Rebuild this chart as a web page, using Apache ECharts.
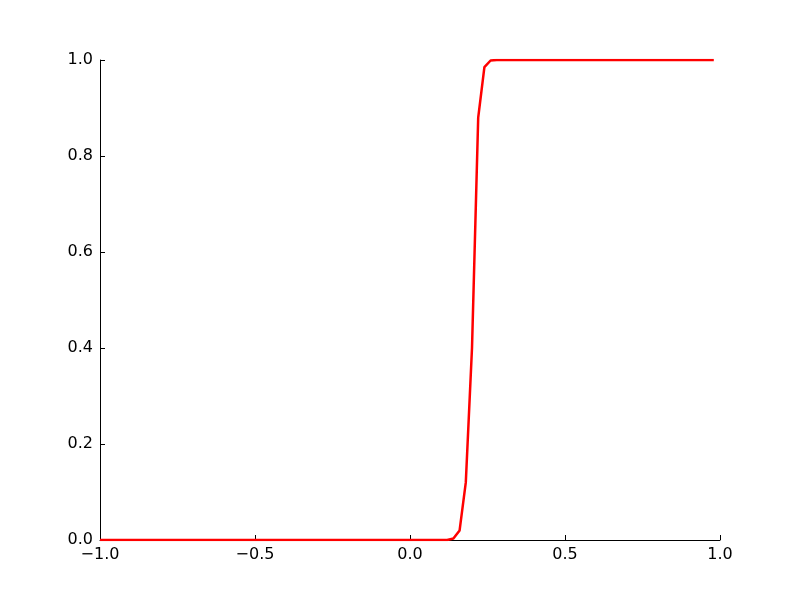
<!DOCTYPE html>
<html>
<head>
<meta charset="utf-8">
<script src="https://cdn.jsdelivr.net/npm/echarts@6/dist/echarts.min.js"></script>
<style>html,body{margin:0;padding:0;background:#fff;}#c{width:800px;height:600px;}</style>
</head>
<body>
<div id="c"></div>
<script>
const xValues = [
  -1.00,-0.98,-0.96,-0.94,-0.92,-0.90,-0.88,-0.86,-0.84,-0.82,
  -0.80,-0.78,-0.76,-0.74,-0.72,-0.70,-0.68,-0.66,-0.64,-0.62,
  -0.60,-0.58,-0.56,-0.54,-0.52,-0.50,-0.48,-0.46,-0.44,-0.42,
  -0.40,-0.38,-0.36,-0.34,-0.32,-0.30,-0.28,-0.26,-0.24,-0.22,
  -0.20,-0.18,-0.16,-0.14,-0.12,-0.10,-0.08,-0.06,-0.04,-0.02,
   0.00, 0.02, 0.04, 0.06, 0.08, 0.10, 0.12, 0.14, 0.16, 0.18,
   0.20, 0.22, 0.24, 0.26, 0.28, 0.30, 0.32, 0.34, 0.36, 0.38,
   0.40, 0.42, 0.44, 0.46, 0.48, 0.50, 0.52, 0.54, 0.56, 0.58,
   0.60, 0.62, 0.64, 0.66, 0.68, 0.70, 0.72, 0.74, 0.76, 0.78,
   0.80, 0.82, 0.84, 0.86, 0.88, 0.90, 0.92, 0.94, 0.96, 0.98
];
const yValues = [
  0,0,0,0,0,0,0,0,0,0,
  0,0,0,0,0,0,0,0,0,0,
  0,0,0,0,0,0,0,0,0,0,
  0,0,0,0,0,0,0,0,0,0,
  0,0,0,0,0,0,0,0,0,0,
  0,0,0,0,0,0,0,0.003,0.02,0.12,
  0.40,0.88,0.985,0.999,1,1,1,1,1,1,
  1,1,1,1,1,1,1,1,1,1,
  1,1,1,1,1,1,1,1,1,1,
  1,1,1,1,1,1,1,1,1,1
];
const xTicks = [-1.0, -0.5, 0.0, 0.5, 1.0];
const yTicks = [0.0, 0.2, 0.4, 0.6, 0.8, 1.0];

const fmt = v => v.toFixed(1).replace('-', '\u2212');
const chart = echarts.init(document.getElementById('c'));
chart.setOption({
  animation: false,
  backgroundColor: '#ffffff',
  grid: { left: 100, right: 80, top: 60, bottom: 60, containLabel: false },
  xAxis: {
    type: 'value', min: xTicks[0], max: xTicks[xTicks.length - 1], interval: 0.5,
    axisLine: { show: true, onZero: false, lineStyle: { color: '#000', width: 1 } },
    axisTick: { show: true, inside: true, length: 5, lineStyle: { color: '#000' } },
    axisLabel: { color: '#000', fontFamily: 'DejaVu Sans', fontSize: 16, margin: 7, formatter: fmt, showMinLabel: true, showMaxLabel: true },
    splitLine: { show: false }
  },
  yAxis: {
    type: 'value', min: yTicks[0], max: yTicks[yTicks.length - 1], interval: 0.2,
    axisLine: { show: true, onZero: false, lineStyle: { color: '#000', width: 1 } },
    axisTick: { show: true, inside: true, length: 5, lineStyle: { color: '#000' } },
    axisLabel: { color: '#000', fontFamily: 'DejaVu Sans', fontSize: 16, margin: 7, formatter: fmt, showMinLabel: true, showMaxLabel: true },
    splitLine: { show: false }
  },
  series: [{
    type: 'line',
    data: xValues.map((x, i) => [x, yValues[i]]),
    showSymbol: false,
    clip: true,
    lineStyle: { color: '#ff0000', width: 2.5 },
    z: 1
  }]
});
</script>
</body>
</html>
